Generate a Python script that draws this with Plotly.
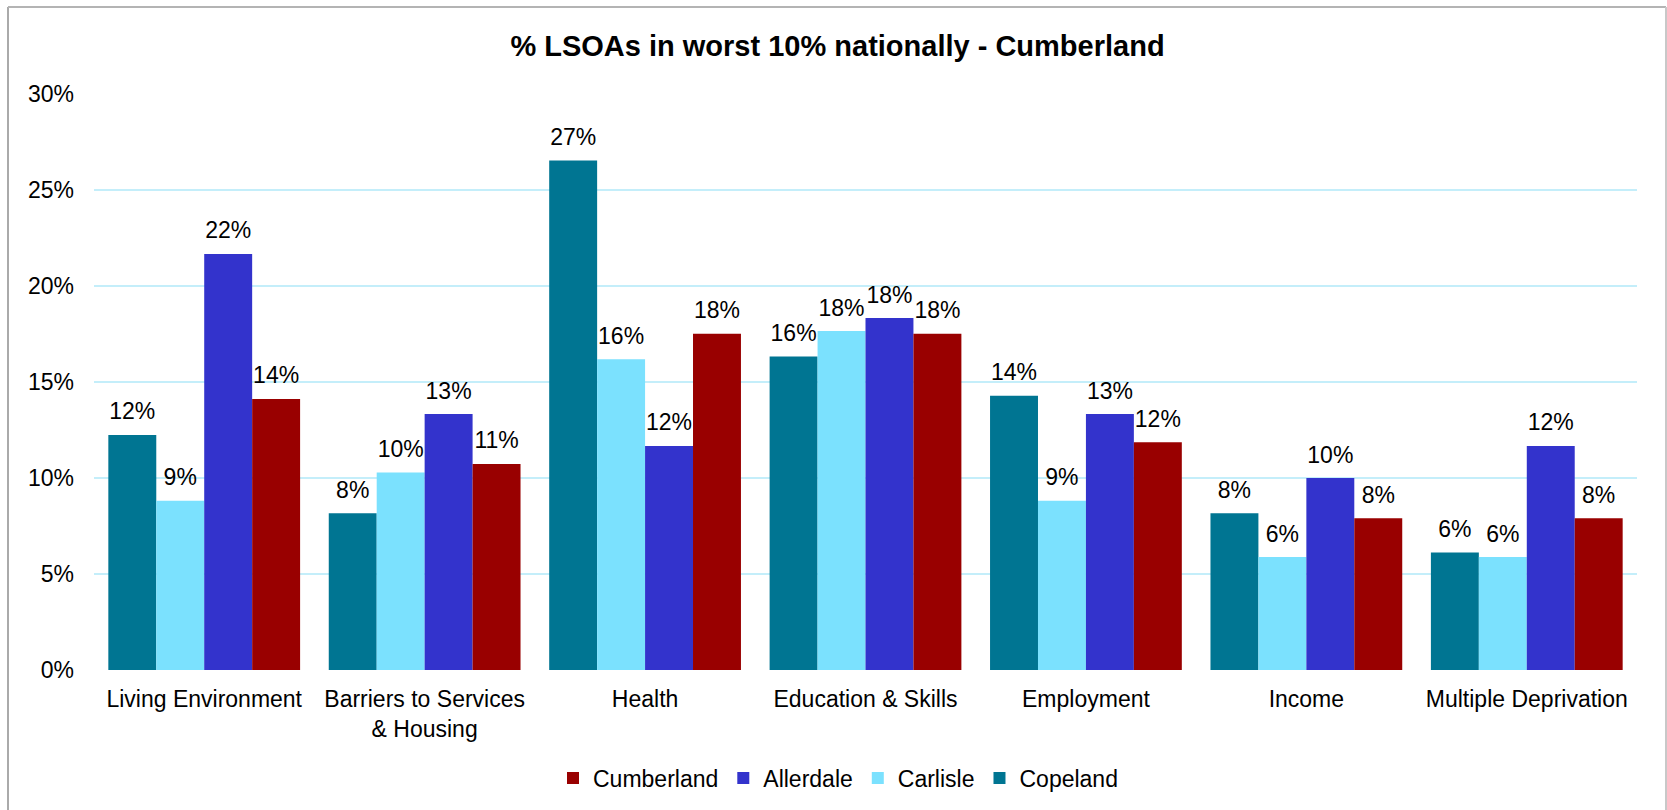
import plotly.graph_objects as go

# Share of LSOAs in the worst 10% nationally, by deprivation domain
categories = [
    "Living Environment",
    "Barriers to Services<br>& Housing",
    "Health",
    "Education & Skills",
    "Employment",
    "Income",
    "Multiple Deprivation",
]
copeland = [0.1224, 0.0816, 0.2653, 0.1633, 0.1429, 0.0816, 0.0612]
carlisle = [0.0882, 0.1029, 0.1618, 0.1765, 0.0882, 0.0588, 0.0588]
allerdale = [0.2167, 0.1333, 0.1167, 0.1833, 0.1333, 0.1000, 0.1167]
cumberland = [0.1412, 0.1073, 0.1751, 0.1751, 0.1186, 0.0791, 0.0791]

series_names = ["Copeland", "Carlisle", "Allerdale", "Cumberland"]
series_values = [copeland, carlisle, allerdale, cumberland]
series_colors = ["#007592", "#7BE1FE", "#3333CC", "#990000"]

y_ticks = [0, 0.05, 0.10, 0.15, 0.20, 0.25, 0.30]

FONT = "Liberation Sans, Arial, sans-serif"
W, H = 1667, 810
PLOT_L, PLOT_R, PLOT_T, PLOT_B = 94, 1637, 94, 670

fig = go.Figure()

for name, vals, col in zip(series_names, series_values, series_colors):
    fig.add_trace(go.Bar(
        name=name,
        x=categories,
        y=vals,
        marker=dict(color=col, line=dict(width=0)),
        offsetgroup=name,
        hoverinfo="skip",
    ))

# value labels, grouped like the bars and lifted above each bar top
for name, vals in zip(series_names, series_values):
    fig.add_trace(go.Scatter(
        x=categories,
        y=vals,
        mode="markers+text",
        marker=dict(size=14, opacity=0),
        text=[f"{v:.0%}" for v in vals],
        textposition="top center",
        textfont=dict(family=FONT, size=23, color="#000000"),
        offsetgroup=name,
        showlegend=False,
        hoverinfo="skip",
        cliponaxis=False,
    ))

pw = PLOT_R - PLOT_L
ph = PLOT_B - PLOT_T

fig.update_layout(
    width=W,
    height=H,
    margin=dict(l=PLOT_L, r=W - PLOT_R, t=PLOT_T, b=H - PLOT_B),
    paper_bgcolor="white",
    plot_bgcolor="white",
    barmode="group",
    bargap=0.13,
    bargroupgap=0,
    scattermode="group",
    scattergap=0.13,
    font=dict(family=FONT, size=23, color="#000000"),
    title=dict(
        text="<b>% LSOAs in worst 10% nationally - Cumberland</b>",
        font=dict(family=FONT, size=29, color="#000000"),
        x=837.5 / W, xref="container", xanchor="center",
        y=1 - 46 / H, yref="container", yanchor="middle",
    ),
    xaxis=dict(
        showgrid=False,
        showline=False,
        zeroline=False,
        ticks="",
        tickfont=dict(family=FONT, size=23),
        ticklabelstandoff=13,
    ),
    yaxis=dict(
        range=[0, 0.30],
        tickvals=y_ticks,
        tickformat=".0%",
        showgrid=True,
        gridcolor="#C4EEFA",
        gridwidth=2,
        zeroline=False,
        showline=False,
        ticks="",
        tickfont=dict(family=FONT, size=23),
        ticklabelstandoff=19,
    ),
    legend=dict(
        orientation="h",
        traceorder="reversed",
        xref="container", x=838 / W, xanchor="center",
        yref="container", y=1 - 778 / H, yanchor="middle",
        font=dict(family=FONT, size=23),
        itemwidth=30,
        bgcolor="rgba(0,0,0,0)",
    ),
    shapes=[
        # chart frame: left, top and right edges
        dict(type="line", xref="paper", yref="paper",
             x0=(8 - PLOT_L) / pw, x1=(8 - PLOT_L) / pw,
             y0=(PLOT_B - H - 5) / ph, y1=(PLOT_B - 7) / ph,
             line=dict(color="#AAAAAA", width=2)),
        dict(type="line", xref="paper", yref="paper",
             x0=(8 - PLOT_L) / pw, x1=(1666 - PLOT_L) / pw,
             y0=(PLOT_B - 7) / ph, y1=(PLOT_B - 7) / ph,
             line=dict(color="#B4B4B4", width=2)),
        dict(type="line", xref="paper", yref="paper",
             x0=(1666 - PLOT_L) / pw, x1=(1666 - PLOT_L) / pw,
             y0=(PLOT_B - H - 5) / ph, y1=(PLOT_B - 7) / ph,
             line=dict(color="#C8C8C8", width=2)),
    ],
)

fig.write_html("out.html")
